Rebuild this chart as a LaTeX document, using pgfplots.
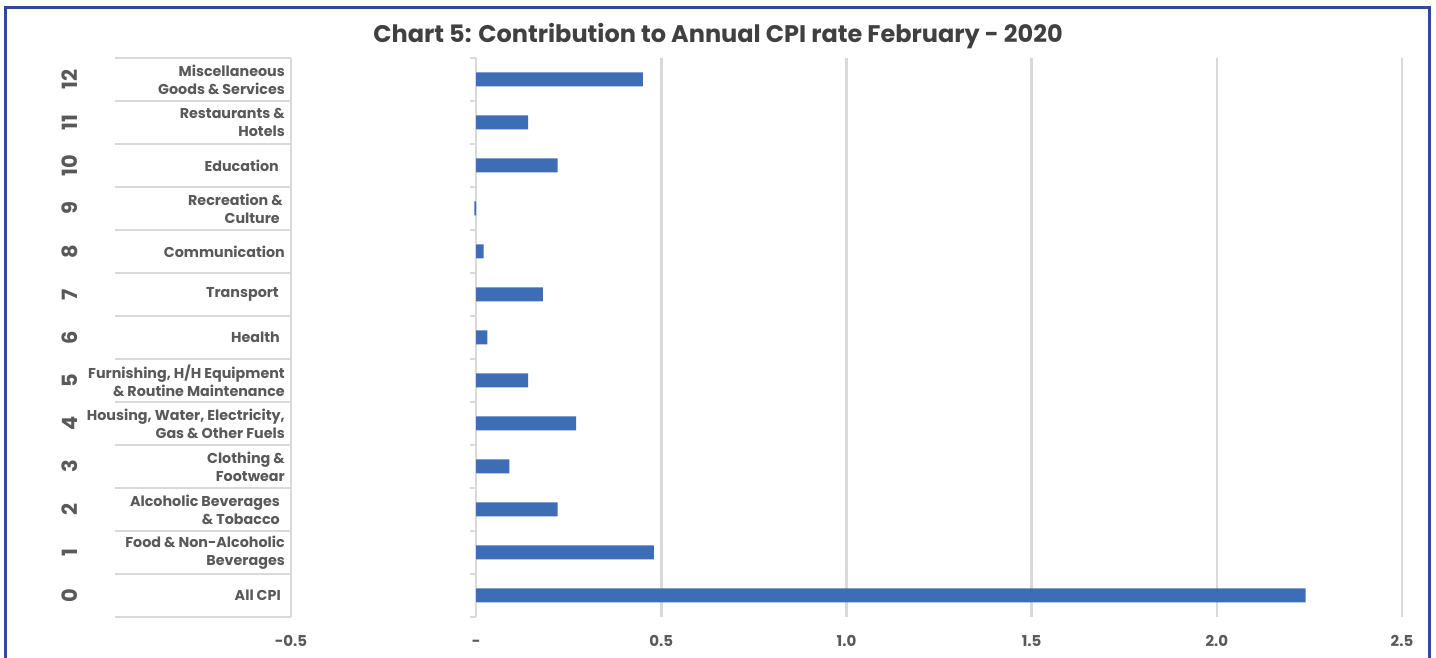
\documentclass[border=0pt]{standalone}
\usepackage{fontspec}
\setmainfont{Poppins}
\usepackage{graphicx}
\usepackage{pgfplots}
\pgfplotsset{compat=1.18}
\definecolor{barblue}{HTML}{3D6DB5}
\definecolor{txtgray}{HTML}{595959}
\definecolor{titlegray}{HTML}{404040}
\definecolor{gridgray}{HTML}{D9D9D9}
\definecolor{frameblue}{HTML}{2F4A9A}
\newcommand\rl[1]{\rotatebox{90}{#1}}
\begin{document}
\begin{tikzpicture}
\begin{axis}[
  scale only axis, width=1111pt, height=559pt,
  clip=false,
  xbar, bar width=14pt,
  xmin=-0.5, xmax=2.5, ymin=-0.5, ymax=12.5,
  axis line style={draw=none},
  major tick length=0pt,
  xtick={-0.5,0,0.5,1,1.5,2,2.5},
  xticklabels={-0.5,-,0.5,1.0,1.5,2.0,2.5},
  xticklabel style={font=\bfseries\fontsize{15}{18}\selectfont, text=txtgray,
    inner sep=0pt, text height=11pt, text depth=0pt, anchor=north, yshift=-18pt},
  xmajorgrids, grid style={gridgray, line width=2.5pt},
  ytick={0,1,2,3,4,5,6,7,8,9,10,11,12},
  yticklabels={
    All CPI\hspace*{4pt},
    Food \& Non-Alcoholic\\Beverages,
    Alcoholic Beverages\hspace*{5pt}\\\& Tobacco\hspace*{5pt},
    Clothing \&\\Footwear,
    {Housing, Water, Electricity,}\\Gas \& Other Fuels,
    {Furnishing, H/H Equipment}\\\& Routine Maintenance,
    Health\hspace*{5pt},
    Transport\hspace*{6pt},
    Communication,
    Recreation \&\hspace*{2pt}\\Culture\hspace*{5pt},
    Education\hspace*{6pt},
    Restaurants \&\\Hotels,
    Miscellaneous\\Goods \& Services},
  yticklabel style={font=\bfseries\fontsize{14.3}{18}\selectfont, text=txtgray,
    align=right, inner sep=0pt, anchor=east, xshift=-6pt},
  extra y ticks={0,1,2,3,4,5,6,7,8,9,10,11,12},
  extra y tick labels={\rl{0},\rl{1},\rl{2},\rl{3},\rl{4},\rl{5},\rl{6},
    \rl{7},\rl{8},\rl{9},\rl{10},\rl{11},\rl{12}},
  extra y tick style={yticklabel style={font=\bfseries\fontsize{21}{24}\selectfont,
    anchor=center, xshift=-215pt}},
]
\coordinate (o) at (axis cs:-0.5,-0.5);
\pgfplotsinvokeforeach{-0.5,0.5,...,12.5}{
  \draw[gridgray, line width=2.5pt] (axis cs:-0.5,#1) -- ++(-176pt,0pt);
  \draw[gridgray, line width=2pt] (axis cs:0,#1) -- ++(-6pt,0pt);
}
\addplot[fill=barblue, draw=none] coordinates {
  (2.24,0) (0.48,1) (0.22,2) (0.09,3) (0.27,4) (0.14,5) (0.03,6)
  (0.18,7) (0.02,8) (-0.005,9) (0.22,10) (0.14,11) (0.45,12)
};
\end{axis}
\pgfresetboundingbox
\begin{scope}[shift={(o)}, x=1pt, y=1pt]
\path[use as bounding box] (-291,-41) rectangle (1145,617);
\draw[frameblue, line width=3pt] (-285,609) rectangle (1138,-60);
\node[font=\bfseries\fontsize{24}{28}\selectfont, text=titlegray] at (427,581)
  {Chart 5: Contribution to Annual CPI rate February - 2020};
\end{scope}
\end{tikzpicture}
\end{document}
